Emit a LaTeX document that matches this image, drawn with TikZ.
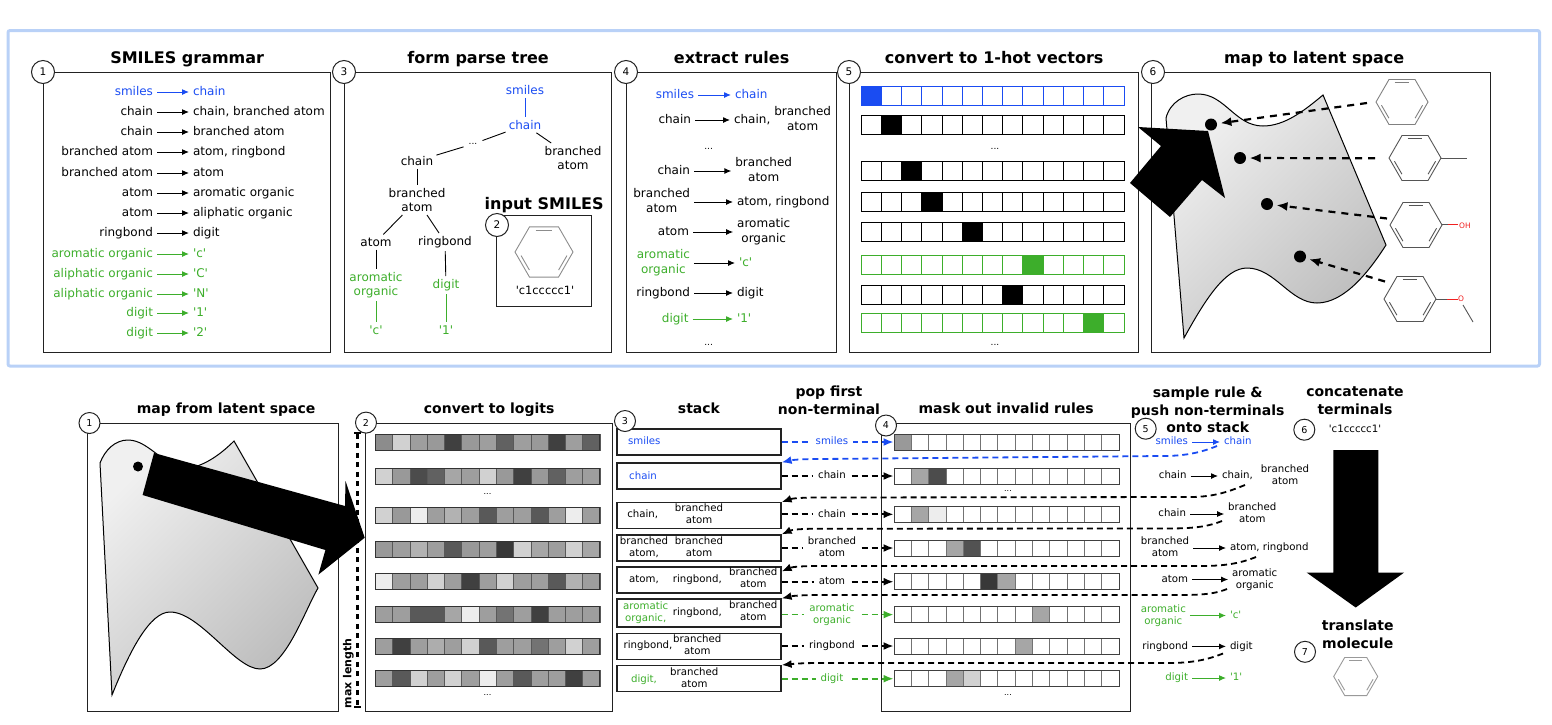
\documentclass[tikz,border=0pt]{standalone}
\usepackage{fontspec}
\setmainfont{DejaVu Sans}
\usepackage{xcolor}
\usetikzlibrary{arrows.meta,positioning}

\definecolor{smilesblue}{HTML}{1A4CF2}
\definecolor{termgreen}{HTML}{3DAE2B}
\definecolor{framecol}{HTML}{B9D1F7}
\definecolor{boxline}{HTML}{222222}
\definecolor{molgrey}{HTML}{555555}
\definecolor{oxyred}{HTML}{F02020}

\newcommand{\twoline}[2]{\smash{\begin{tabular}{@{}c@{}}#1\\#2\end{tabular}}}
\newcommand{\sq}[1]{\textquotesingle #1\textquotesingle}

\tikzset{
  panelbox/.style={draw=boxline, line width=1.3pt, inner sep=0pt, anchor=north west},
  paneltitle/.style={font=\bfseries\fontsize{16}{18}\selectfont, inner sep=0pt, text height=12pt, text depth=3pt},
  lowtitle/.style={font=\bfseries\fontsize{14}{17.7}\selectfont, inner sep=0pt, align=center},
  topstep/.style={circle, draw=boxline, fill=white, line width=1pt, minimum size=23pt, inner sep=0pt, font=\fontsize{10.5}{12}\selectfont},
  lowstep/.style={topstep, minimum size=21pt, font=\fontsize{9.5}{12}\selectfont},
  toplbl/.style={font=\fontsize{12}{14.3}\selectfont, inner sep=0pt, outer xsep=4pt, text height=8.8pt, text depth=2.4pt},
  lowlbl/.style={font=\fontsize{10.2}{12.3}\selectfont, inner sep=0pt, outer xsep=4pt, text height=7.6pt, text depth=2pt},
  treelbl/.style={font=\fontsize{12}{14.3}\selectfont, inner sep=3pt, align=center},
  rulearrow/.style={-{Latex[length=7pt,width=6pt]}, line width=1pt},
  treeline/.style={line width=.9pt},
  popline/.style={-{Latex[length=10pt,width=8pt]}, line width=1.7pt, dash pattern=on 6pt off 4pt},
  returnline/.style={-{Latex[length=10pt,width=8pt]}, line width=1.8pt, dash pattern=on 6pt off 4pt},
  latentline/.style={-{Latex[length=11pt,width=9pt]}, line width=2.2pt, dash pattern=on 7pt off 6pt},
  latentdot/.style={circle, fill=black, inner sep=0pt, minimum size=12pt},
  blobfill/.style={draw=black, line width=1pt, top color=black!6, middle color=black!18, bottom color=black!26, shading angle=45},
  pics/benzene/.style={code={
    \draw[pic actions] (0:#1) -- (60:#1) -- (120:#1) -- (180:#1) -- (240:#1) -- (300:#1) -- cycle;
    \draw[pic actions] (249:{.8*#1}) -- (291:{.8*#1});
    \draw[pic actions] (129:{.8*#1}) -- (171:{.8*#1});
    \draw[pic actions] (9:{.8*#1}) -- (51:{.8*#1});
  }}
}

\begin{document}
\begin{tikzpicture}[x=1pt, y=-1pt]
    \useasboundingbox (0,0) rectangle (1552,724);

    % Outer frame
    \draw [framecol, line width=3pt, rounded corners=2pt] (8,30.5) rectangle (1539.5,366);

    % SMILES grammar
    \node [panelbox, minimum width=287pt, minimum height=280pt] (grammar) at (43,72) {};
    \node [paneltitle, above=5pt of grammar] (grammartitle) {SMILES grammar};
    \foreach \y/\lhs/\rhs/\col [count=\n] in {
        92/smiles/chain/smilesblue, 112/chain/chain{,} branched atom/black, 132/chain/branched atom/black,
        152/branched atom/atom{,} ringbond/black, 173/branched atom/atom/black, 193/atom/aromatic organic/black,
        213/atom/aliphatic organic/black, 233/ringbond/digit/black, 254/aromatic organic/\sq{c}/termgreen,
        274/aliphatic organic/\sq{C}/termgreen, 294/aliphatic organic/\sq{N}/termgreen, 313/digit/\sq{1}/termgreen,
        333/digit/\sq{2}/termgreen} {
      \node [toplbl, text=\col, anchor=east] (gl\n) at (157,\y) {\lhs};
      \node [toplbl, text=\col, anchor=west] (gr\n) at (189,\y) {\rhs};
      \draw [rulearrow, \col] (gl\n) -- (gr\n);
    }

    % Parse tree
    \node [panelbox, minimum width=267pt, minimum height=280pt] (parse) at (344,72) {};
    \node [paneltitle, above=5pt of parse] (parsetitle) {form parse tree};
    \node [treelbl, text=smilesblue] (tsmiles) at (525,90) {smiles};
    \node [treelbl, text=smilesblue] (tchain) at (525,125) {chain};
    \node [treelbl, font=\fontsize{9}{10}\selectfont, inner sep=5pt] (tdots) at (473,144) {...};
    \node [treelbl] (tbranch) at (573,158) {branched\\atom};
    \node [treelbl] (tchainb) at (417,161) {chain};
    \node [treelbl] (tbranchb) at (417,200) {branched\\atom};
    \node [treelbl] (tatom) at (376,242) {atom};
    \node [treelbl] (tring) at (445,242) {ringbond};
    \node [treelbl, text=termgreen] (tarom) at (376,285) {aromatic\\organic};
    \node [treelbl, text=termgreen] (tdigit) at (446,285) {digit};
    \node [treelbl, text=termgreen] (tc) at (376,330) {\sq{c}};
    \node [treelbl, text=termgreen] (tone) at (446,330) {\sq{1}};
    \draw [treeline, smilesblue] (tsmiles) -- (tchain);
    \draw [treeline] (tchain) -- (tdots);
    \draw [treeline] (tchain) -- (tbranch);
    \draw [treeline] (tdots) -- (tchainb);
    \draw [treeline] (tchainb) -- (tbranchb);
    \draw [treeline] (tbranchb) -- (tatom);
    \draw [treeline] (tbranchb) -- (tring);
    \draw [treeline] (tatom) -- (tarom);
    \draw [treeline] (tring) -- (tdigit);
    \draw [treeline, termgreen] (tarom) -- (tc);
    \draw [treeline, termgreen] (tdigit) -- (tone);

    % Input SMILES
    \node [panelbox, minimum width=95pt, minimum height=91pt] (input) at (496,215) {};
    \node [paneltitle, above=2pt of input] (inputtitle) {input SMILES};
    \pic [draw=black!45, line width=.9pt] (inputmol) at (544,252) {benzene=29};
    \node [lowlbl, font=\fontsize{11.4}{14}\selectfont] (inputstr) at (545,292) {\sq{c1ccccc1}};

    % Extract rules
    \node [panelbox, minimum width=210pt, minimum height=280pt] (rules) at (626,72) {};
    \node [paneltitle, above=5pt of rules] (rulestitle) {extract rules};
    \foreach \y/\la/\lx/\ltxt/\lcol/\ra/\rx/\rtxt/\rcol/\acol [count=\n] in {
        95/east/698/smiles/smilesblue/west/731/chain/smilesblue/smilesblue,
        120/east/695/chain/black/west/730/chain{,}\hspace{4pt}\twoline{branched}{atom}/black/black,
        171/east/694/chain/black/center/763.7/\twoline{branched}{atom}/black/black,
        202/center/661.7/\twoline{branched}{atom}/black/west/733/atom{,} ringbond/black/black,
        232/east/693/atom/black/center/763.7/\twoline{aromatic}{organic}/black/black,
        263/center/663.4/\twoline{aromatic}{organic}/termgreen/west/735/\sq{c}/termgreen/black,
        293/east/694/ringbond/black/west/733/digit/black/black,
        319/east/692.5/digit/termgreen/west/733/\sq{1}/termgreen/termgreen} {
      \node [toplbl, text=\lcol, anchor=\la] (el\n) at (\lx,\y) {\ltxt};
      \node [toplbl, text=\rcol, anchor=\ra] (er\n) at (\rx,\y) {\rtxt};
      \draw [rulearrow, \acol] (el\n) -- (er\n);
    }
    \node [treelbl, font=\fontsize{9}{10}\selectfont] (edotsa) at (708.6,149) {...};
    \node [treelbl, font=\fontsize{9}{10}\selectfont] (edotsb) at (708.6,345) {...};

    % 1-hot vectors
    \node [panelbox, minimum width=289pt, minimum height=280pt] (hot) at (849,72) {};
    \node [paneltitle, above=5pt of hot] (hottitle) {convert to 1-hot vectors};
    \foreach \y/\col/\hit [count=\n] in {96/smilesblue/0, 125/black/1, 171/black/2, 201.5/black/3,
        232/black/5, 264.5/termgreen/8, 294.5/black/7, 322.8/termgreen/11} {
      \foreach \k in {0,...,12} {
        \draw [\col, line width=.8pt, fill=white] ({861+\k*20.23},{\y-9.5}) rectangle ++(20.23,19);
      }
      \fill [\col] ({861+\hit*20.23},{\y-9.5}) rectangle ++(20.23,19);
      \node [draw=\col, line width=1pt, minimum width=263pt, minimum height=19pt, inner sep=0pt] (hotrow\n) at (992.5,\y) {};
    }
    \node [treelbl, font=\fontsize{9}{10}\selectfont] (hdotsa) at (995,149) {...};
    \node [treelbl, font=\fontsize{9}{10}\selectfont] (hdotsb) at (995,345) {...};

    % Map to latent space
    \node [panelbox, minimum width=339pt, minimum height=280pt] (latent) at (1151,72) {};
    \node [paneltitle, above=5pt of latent, xshift=-7pt] (latenttitle) {map to latent space};
    \draw [blobfill] (1166,118) .. controls (1170,102) and (1185,94) .. (1198,94)
        .. controls (1225,94) and (1235,126) .. (1263,126)
        .. controls (1285,126) and (1305,110) .. (1323,95) -- (1386,245)
        .. controls (1370,270) and (1345,303) .. (1317,303)
        .. controls (1290,303) and (1275,268) .. (1247,268)
        .. controls (1225,268) and (1205,300) .. (1184,338) -- cycle;
    \foreach \x/\y/\nm in {1211/124.5/A, 1240/158/B, 1267/204/C, 1300/256.5/D} {
      \node [latentdot, outer sep=3.5pt] (dot\nm) at (\x,\y) {};
    }
    \pic [draw=black!50, line width=.9pt] (molA) at (1402,102) {benzene=26};
    \pic [draw=molgrey, line width=.9pt] (molB) at (1415,158) {benzene=26};
    \pic [draw=molgrey, line width=.9pt] (molC) at (1416,225) {benzene=26};
    \pic [draw=molgrey, line width=.9pt] (molD) at (1410,299) {benzene=26};
    \draw [molgrey, line width=.9pt] (1441,158) -- (1467,158);
    \draw [molgrey, line width=.9pt] (1442,224.5) -- (1448,224.5);
    \draw [oxyred, line width=.9pt] (1448,224.5) -- (1458,224.5);
    \node [text=oxyred, font=\fontsize{7.5}{9}\selectfont, inner sep=0pt] (oxyC) at (1465,226) {OH};
    \draw [molgrey, line width=.9pt] (1436,299) -- (1447,299);
    \draw [oxyred, line width=.9pt] (1447,299) -- (1458,299);
    \node [text=oxyred, font=\fontsize{7.5}{9}\selectfont, inner sep=0pt] (oxyD) at (1461,298.5) {O};
    \draw [molgrey, line width=.9pt] (1463,305) -- (1473,322);
    \foreach \x/\y/\nm in {1367/103/A, 1375/158.3/B, 1387/218.5/C, 1385/281.5/D} {
      \coordinate (start\nm) at (\x,\y);
      \draw [latentline] (start\nm) -- (dot\nm);
    }

    % Big arrow into latent space
    \fill [black] (1138,127) -- (1208,131) -- (1225,198) -- (1202,180) -- (1170,217) -- (1130,183) -- (1161,146) -- cycle;

    % Map from latent space
    \node [panelbox, minimum width=251pt, minimum height=288pt] (mapfrom) at (87,422.6) {};
    \node [lowtitle, text height=11pt, text depth=3pt, above=6pt of mapfrom, xshift=13pt] (mapfromtitle) {map from latent space};
    \draw [blobfill] (100,463) .. controls (105,450) and (115,440) .. (128,440)
        .. controls (150,440) and (165,470) .. (190,468)
        .. controls (205,465) and (220,455) .. (234,441) -- (318,588)
        .. controls (305,610) and (285,669) .. (260,669)
        .. controls (235,669) and (200,612) .. (170,612)
        .. controls (150,612) and (130,650) .. (112,695) -- cycle;
    \node [latentdot, minimum size=10pt] (dotfrom) at (138,466.5) {};

    % Logits
    \node [panelbox, minimum width=247pt, minimum height=288pt] (logits) at (365,422.6) {};
    \node [lowtitle, text height=11pt, text depth=3pt, above=6pt of logits] (logitstitle) {convert to logits};
    \foreach \y/\shades [count=\n] in {
        442/{45,18,38,40,75,40,38,62,38,40,75,38,62},
        476/{18,40,70,62,35,38,18,40,75,40,62,38,38},
        515.5/{18,40,7,38,30,38,65,38,38,65,38,7,38},
        549/{40,38,30,38,65,40,38,78,18,35,38,18,35},
        581.5/{7,38,38,18,38,75,38,18,38,38,65,30,38},
        614.5/{38,38,65,65,35,7,38,55,38,75,38,38,38},
        646/{38,75,38,32,38,18,65,38,38,55,38,18,38},
        678.7/{38,65,18,38,18,38,7,38,65,38,38,75,38}} {
      \foreach \g [count=\k from 0] in \shades {
        \draw [black!65, line width=.6pt, fill=black!\g] ({375.3+\k*17.28},{\y-8}) rectangle ++(17.28,16);
      }
      \node [draw=black!80, line width=1pt, minimum width=224.7pt, minimum height=16pt, inner sep=0pt] (logit\n) at (487.6,\y) {};
    }
    \node [treelbl, font=\fontsize{8}{10}\selectfont] (ldotsa) at (487.5,494) {...};
    \node [treelbl, font=\fontsize{8}{10}\selectfont] (ldotsb) at (487.5,695) {...};
    \coordinate (maxtop) at (357.5,432);
    \coordinate (maxbot) at (357.5,708);
    \draw [{Bar[width=7pt]}-{Bar[width=7pt]}, line width=2.4pt, dash pattern=on 5pt off 4.5pt] (maxtop) -- (maxbot);
    \node [rotate=90, font=\bfseries\fontsize{11}{13}\selectfont, inner sep=0pt] (maxlabel) at (348.5,673.5) {max length};

    % Big arrow into logits
    \fill [black] (154,453) -- (345,506) -- (345.5,481) -- (364.7,537.7) -- (318.4,574.6) -- (325.4,550) -- (142.6,495) -- cycle;

    % Stack
    \node [lowtitle, text height=11pt, text depth=3pt] (stacktitle) at (699,409.5) {stack};
    \foreach \y/\h/\nm in {442/26/A, 476/26/B, 515.7/26/C, 548/26/D, 580/26/E, 613/28/F, 646.2/26/G, 678.6/26/H} {
      \node [draw=boxline, line width=1.2pt, minimum width=164pt, minimum height={\h pt}, inner sep=0pt] (stack\nm) at (699,\y) {};
    }
    \foreach \x/\y/\txt/\col [count=\n] in {
        644.3/442/smiles/smilesblue, 643/476.6/chain/smilesblue,
        642.7/515/chain{,}/black, 699/515/\twoline{branched}{atom}/black,
        644/548/\twoline{branched}{atom{,}}/black, 699/548/\twoline{branched}{atom}/black,
        644/580/atom{,}/black, 697.3/580/ringbond{,}/black, 753.3/579/\twoline{branched}{atom}/black,
        645.7/613/\twoline{aromatic}{organic{,}}/termgreen, 697.3/613/ringbond{,}/black, 753.3/612/\twoline{branched}{atom}/black,
        648/646/ringbond{,}/black, 697.3/646/\twoline{branched}{atom}/black,
        644/680/digit{,}/termgreen, 694.3/679/\twoline{branched}{atom}/black} {
      \node [lowlbl, text=\col] (stxt\n) at (\x,\y) {\txt};
    }

    % Mask
    \node [panelbox, minimum width=249pt, minimum height=288pt] (mask) at (881,422.6) {};
    \node [lowtitle, text height=11pt, text depth=3pt, above=6pt of mask] (masktitle) {mask out invalid rules};
    \foreach \y/\nm/\shades in {
        442/A/{40,0,0,0,0,0,0,0,0,0,0,0,0},
        476/B/{0,35,70,0,0,0,0,0,0,0,0,0,0},
        514.3/C/{0,35,7,0,0,0,0,0,0,0,0,0,0},
        548/D/{0,0,0,35,68,0,0,0,0,0,0,0,0},
        581.7/E/{0,0,0,0,0,78,35,0,0,0,0,0,0},
        614.6/F/{0,0,0,0,0,0,0,0,35,0,0,0,0},
        646/G/{0,0,0,0,0,0,0,35,0,0,0,0,0},
        678.7/H/{0,0,0,35,18,0,0,0,0,0,0,0,0}} {
      \foreach \g [count=\k from 0] in \shades {
        \draw [black!55, line width=.7pt, fill=black!\g] ({894+\k*17.3},{\y-8}) rectangle ++(17.3,16);
      }
      \node [draw=black!75, line width=1pt, minimum width=225pt, minimum height=16pt, inner sep=0pt] (mask\nm) at (1006.5,\y) {};
    }
    \node [treelbl, font=\fontsize{8}{10}\selectfont] (mdotsa) at (1008,490.7) {...};
    \node [treelbl, font=\fontsize{8}{10}\selectfont] (mdotsb) at (1008,695) {...};

    % Pop first non-terminal
    \node [lowtitle] (poptitle) at (829,400.5) {pop first\\non-terminal};
    \foreach \nm/\lab/\col in {A/smiles/smilesblue, B/chain/black, C/chain/black, D/\twoline{branched}{atom}/black,
        E/atom/black, F/\twoline{aromatic}{organic}/termgreen, G/ringbond/black, H/digit/termgreen} {
      \draw [popline, \col] (stack\nm.east |- mask\nm) -- node [pos=.45, lowlbl, inner xsep=5pt, fill=white, text=\col] (pop\nm) {\lab} (mask\nm.west);
    }

    % Sample rule
    \node [lowtitle] (sampletitle) at (1207.7,410) {sample rule \&\\push non-terminals\\onto stack};
    \foreach \y/\la/\lx/\ltxt/\lcol/\ra/\rx/\rtxt/\rcol [count=\n] in {
        442/east/1192/smiles/smilesblue/west/1220/chain/smilesblue,
        476/east/1190.5/chain/black/west/1218/chain{,}\hspace{8pt}\twoline{branched}{atom}/black,
        514/east/1190/chain/black/center/1252.3/\twoline{branched}{atom}/black,
        548/center/1165/\twoline{branched}{atom}/black/west/1226/atom{,} ringbond/black,
        579.5/east/1192/atom/black/center/1254.7/\twoline{aromatic}{organic}/black,
        615.5/center/1163.3/\twoline{aromatic}{organic}/termgreen/west/1226/\sq{c}/termgreen,
        646.4/east/1192/ringbond/black/west/1226/digit/black,
        678/east/1192/digit/termgreen/west/1226/\sq{1}/termgreen} {
      \node [lowlbl, text=\lcol, anchor=\la] (sl\n) at (\lx,\y) {\ltxt};
      \node [lowlbl, text=\rcol, anchor=\ra] (sr\n) at (\rx,\y) {\rtxt};
      \draw [rulearrow, \lcol] (sl\n) -- (sr\n);
    }

    % Dashed lines back to the stack
    \coordinate (stackEret) at ([yshift=-5pt]stackE.north east);
    \foreach \sx/\sy/\fr/\fl/\target/\nm/\col in {
        1217/446/456/459/stackB.north east/B/smilesblue,
        1245/485/497/497.5/stackC.north east/C/black,
        1222/521/528.5/528.7/stackD.north east/D/black,
        1256/557/566/566/stackEret/E/black,
        1227/589/595/595/stackF.north east/F/black,
        1223/653.5/663/663/stackH.north east/H/black} {
      \coordinate (ret\nm) at (\sx,\sy);
      \draw [returnline, \col] (ret\nm) .. controls ({\sx-15},{\sy+6}) and ({\sx-30},\fr) .. ({\sx-55},\fr)
          -- (820,\fl) .. controls (800,\fl) and (792,{\fl+1}) .. (\target);
    }

    % Concatenate terminals
    \node [lowtitle] (concattitle) at (1355,400.5) {concatenate\\terminals};
    \node [lowlbl] (outstr) at (1355,430) {\sq{c1ccccc1}};
    \fill [black] (1333.3,450) -- (1378.3,450) -- (1378.3,572.6) -- (1404,572.6) -- (1355.7,607.5) -- (1306.7,572.6) -- (1333.3,572.6) -- cycle;
    \node [lowtitle] (translatetitle) at (1357.7,634) {translate\\molecule};
    \pic [draw=black!40, line width=.9pt] (outmol) at (1355.7,676.5) {benzene=22};

    % Step numbers
    \node [topstep] (stepa) at (grammar.north west) {1};
    \node [topstep] (stepb) at (497,225) {2};
    \node [topstep] (stepc) at (parse.north west) {3};
    \node [topstep] (stepd) at (rules.north west) {4};
    \node [topstep] (stepe) at (hot.north west) {5};
    \node [topstep] (stepf) at (1153,72) {6};
    \node [lowstep] (lowa) at (89.5,423) {1};
    \node [lowstep] (lowb) at (366,422.6) {2};
    \node [lowstep] (lowc) at (625,421) {3};
    \node [lowstep] (lowd) at (886,425.5) {4};
    \node [lowstep] (lowe) at (1145.7,428.7) {5};
    \node [lowstep] (lowf) at (1304.3,429.7) {6};
    \node [lowstep] (lowg) at (1305,651.8) {7};
\end{tikzpicture}
\end{document}
